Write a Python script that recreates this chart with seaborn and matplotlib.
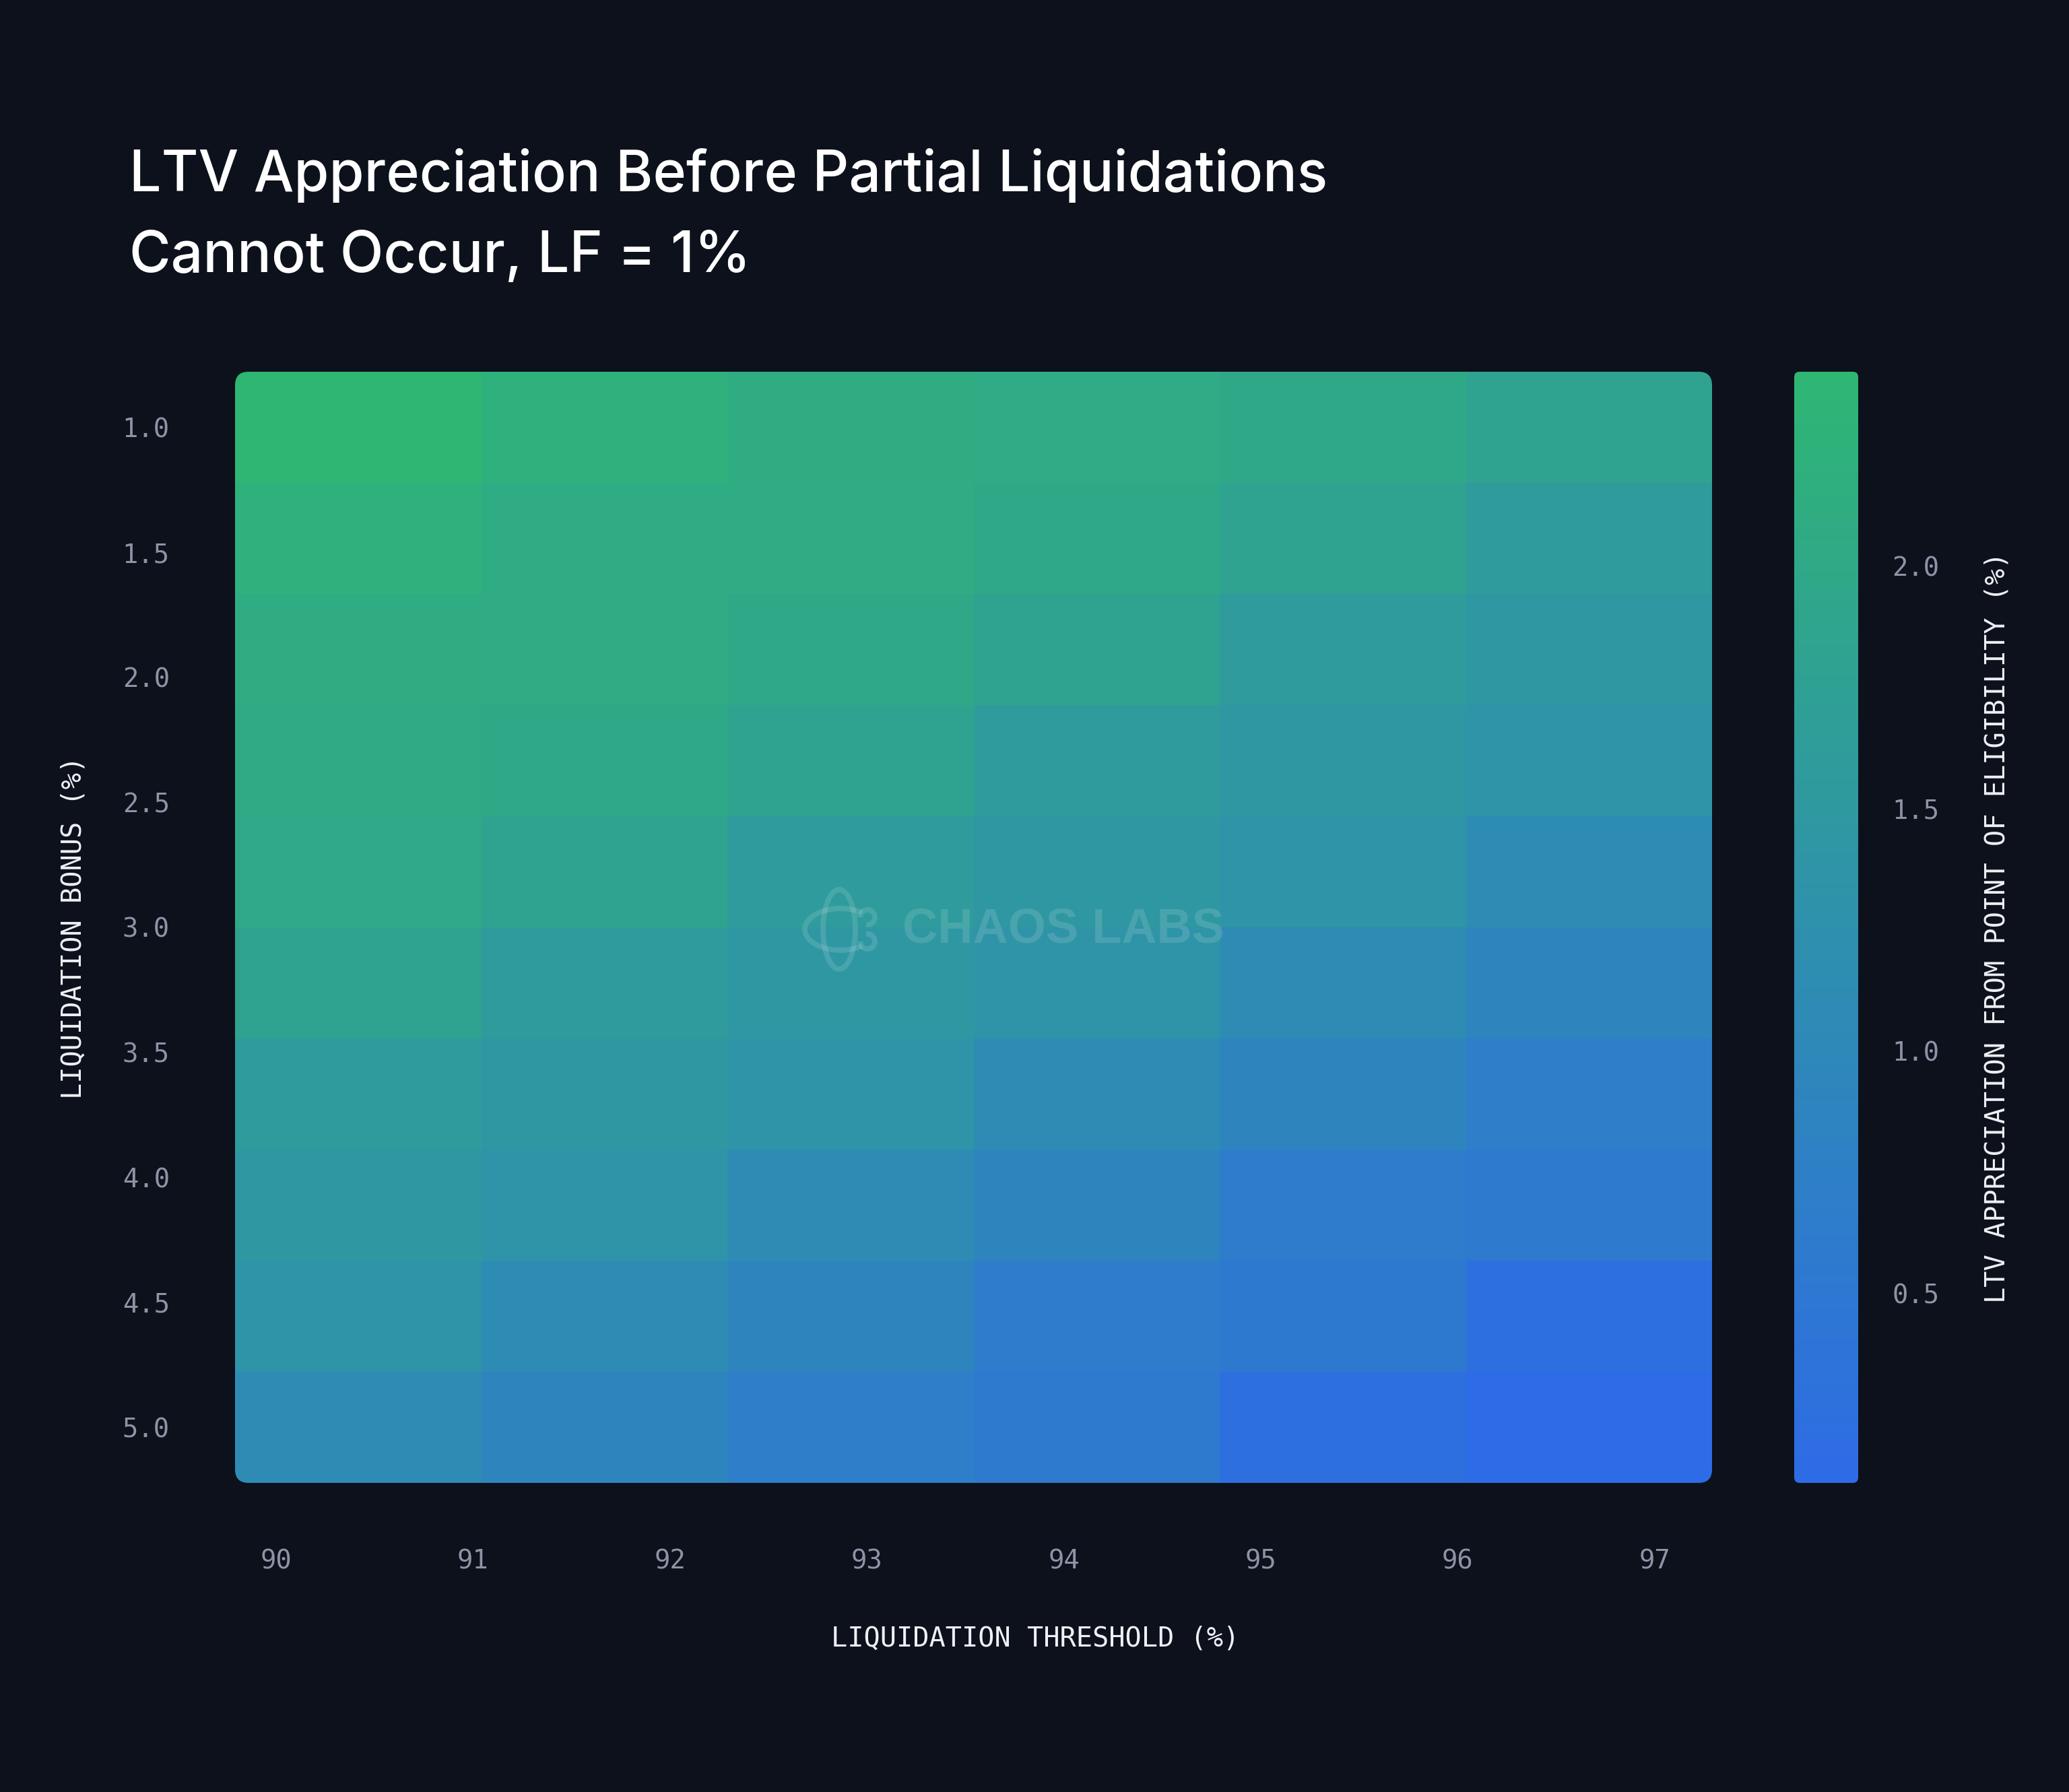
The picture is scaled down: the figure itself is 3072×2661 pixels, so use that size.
import numpy as np
import pandas as pd
import matplotlib
matplotlib.use("Agg")
import matplotlib.pyplot as plt
import seaborn as sns
from matplotlib.colors import LinearSegmentedColormap
from matplotlib.patches import FancyBboxPatch, Ellipse, Arc

# ---------------- data ----------------
threshold_labels = ["90", "91", "92", "93", "94", "95", "96", "97"]
bonus_labels = ["1.0", "1.5", "2.0", "2.5", "3.0", "3.5", "4.0", "4.5", "5.0"]
ltv_appreciation = [
    [2.40, 2.22, 2.10, 2.05, 1.98, 1.83],
    [2.22, 2.08, 2.08, 1.98, 1.83, 1.58],
    [2.10, 2.08, 1.98, 1.83, 1.58, 1.46],
    [2.03, 1.98, 1.83, 1.58, 1.46, 1.37],
    [2.00, 1.83, 1.58, 1.46, 1.37, 1.11],
    [1.83, 1.58, 1.46, 1.37, 1.11, 0.91],
    [1.58, 1.46, 1.37, 1.11, 0.91, 0.70],
    [1.46, 1.37, 1.11, 0.91, 0.64, 0.58],
    [1.37, 1.11, 0.91, 0.64, 0.55, 0.25],
    [1.11, 0.91, 0.70, 0.58, 0.25, 0.11],
]
cbar_ticks = [0.5, 1.0, 1.5, 2.0]
title_lines = ["LTV Appreciation Before Partial Liquidations", "Cannot Occur, LF = 1%"]
x_label = "LIQUIDATION THRESHOLD (%)"
y_label = "LIQUIDATION BONUS (%)"
cbar_label = "LTV APPRECIATION FROM POINT OF ELIGIBILITY (%)"

# ---------------- style ----------------
BG = "#0d111c"
TICK_C = "#8c94a6"
LABEL_C = "#eef0f4"
W, H, DPI = 3072, 2661, 200

sns.set_theme(style="dark", rc={
    "figure.facecolor": BG, "axes.facecolor": BG, "savefig.facecolor": BG,
    "axes.grid": False, "axes.edgecolor": BG,
})
plt.rcParams["font.family"] = ["DejaVu Sans Mono", "DejaVu Sans"]

fig = plt.figure(figsize=(W / DPI, H / DPI), dpi=DPI, facecolor=BG)


def px_axes(l, t, r, b, **kw):
    return fig.add_axes([l / W, 1 - b / H, (r - l) / W, (b - t) / H], **kw)


ax = px_axes(349, 552, 2542, 2202)
cax = px_axes(2664, 552, 2759, 2202)
overlay = fig.add_axes([0, 0, 1, 1], zorder=5)
overlay.set_xlim(0, W)
overlay.set_ylim(H, 0)
overlay.axis("off")
overlay.patch.set_alpha(0)

cmap = LinearSegmentedColormap.from_list("chaos", ["#2e6be6", "#2fb673"])
df = pd.DataFrame(ltv_appreciation)
sns.heatmap(df, ax=ax, cbar_ax=cax, cmap=cmap, linewidths=0,
            cbar_kws={"ticks": cbar_ticks})

# rounded corners
mesh = ax.collections[0]
clip = FancyBboxPatch((349, 552), 2193, 1650, boxstyle="round,pad=0,rounding_size=20",
                      transform=overlay.transData)
mesh.set_clip_path(clip)

ncol = df.shape[1]
nrow = df.shape[0]
x_pos = ncol / 36 + 0.8 * np.arange(len(threshold_labels))
y_pos = np.linspace(0.5, nrow - 0.5, len(bonus_labels))
ax.set_xticks(x_pos)
ax.set_xticklabels(threshold_labels, rotation=0)
ax.set_yticks(y_pos)
ax.set_yticklabels(bonus_labels, rotation=0)
ax.tick_params(axis="both", length=0, colors=TICK_C, labelsize=14)
ax.tick_params(axis="x", pad=35)
ax.tick_params(axis="y", pad=35)
for lbl in ax.get_yticklabels():
    lbl.set_va("center_baseline")
for s in ax.spines.values():
    s.set_visible(False)

ax.set_xlabel(x_label, color=LABEL_C, fontsize=14.5, va="center", ha="center")
ax.xaxis.set_label_coords((1537 - 349) / 2193, -(2433 - 2202) / 1650)
ax.set_ylabel(y_label, color=LABEL_C, fontsize=14.5, va="center", ha="center")
ax.yaxis.set_label_coords(-(349 - 110) / 2193, 0.5)

cbar = mesh.colorbar
cbar.outline.set_visible(False)
cbar_clip = FancyBboxPatch((2664, 552), 95, 1650, boxstyle="round,pad=0,rounding_size=8",
                           transform=overlay.transData)
cbar.solids.set_clip_path(cbar_clip)
cax.tick_params(length=0, colors=TICK_C, labelsize=14, pad=18)
cbar.set_label(cbar_label, color=LABEL_C, fontsize=14.5, va="center", ha="center")
cax.yaxis.set_label_coords((2966 - 2664) / 95, 0.5)

# title
fig.text(192 / W, 1 - 284 / H, title_lines[0], color="white", fontsize=30.3,
         fontweight="medium", family=["Inter", "DejaVu Sans"], va="baseline", ha="left")
fig.text(192 / W, 1 - 404 / H, title_lines[1], color="white", fontsize=30.3,
         fontweight="medium", family=["Inter", "DejaVu Sans"], va="baseline", ha="left")

# watermark
wm_c = (1, 1, 1, 0.13)
overlay.text(1340, 1381, "CHAOS LABS", color=wm_c, fontsize=26, fontweight="bold",
             family=["Liberation Sans", "DejaVu Sans"], ha="left", va="center")
overlay.add_patch(Ellipse((1246, 1380), 48, 118, fill=False, ec=wm_c, lw=2.8))
overlay.add_patch(Arc((1248, 1380), 106, 62, theta1=38, theta2=322, ec=wm_c, lw=2.8))
overlay.add_patch(Arc((1288, 1362), 22, 22, theta1=180, theta2=100, ec=wm_c, lw=2.8))
overlay.add_patch(Arc((1288, 1398), 22, 22, theta1=260, theta2=180, ec=wm_c, lw=2.8))

fig.savefig("out.png", dpi=DPI, facecolor=BG)
